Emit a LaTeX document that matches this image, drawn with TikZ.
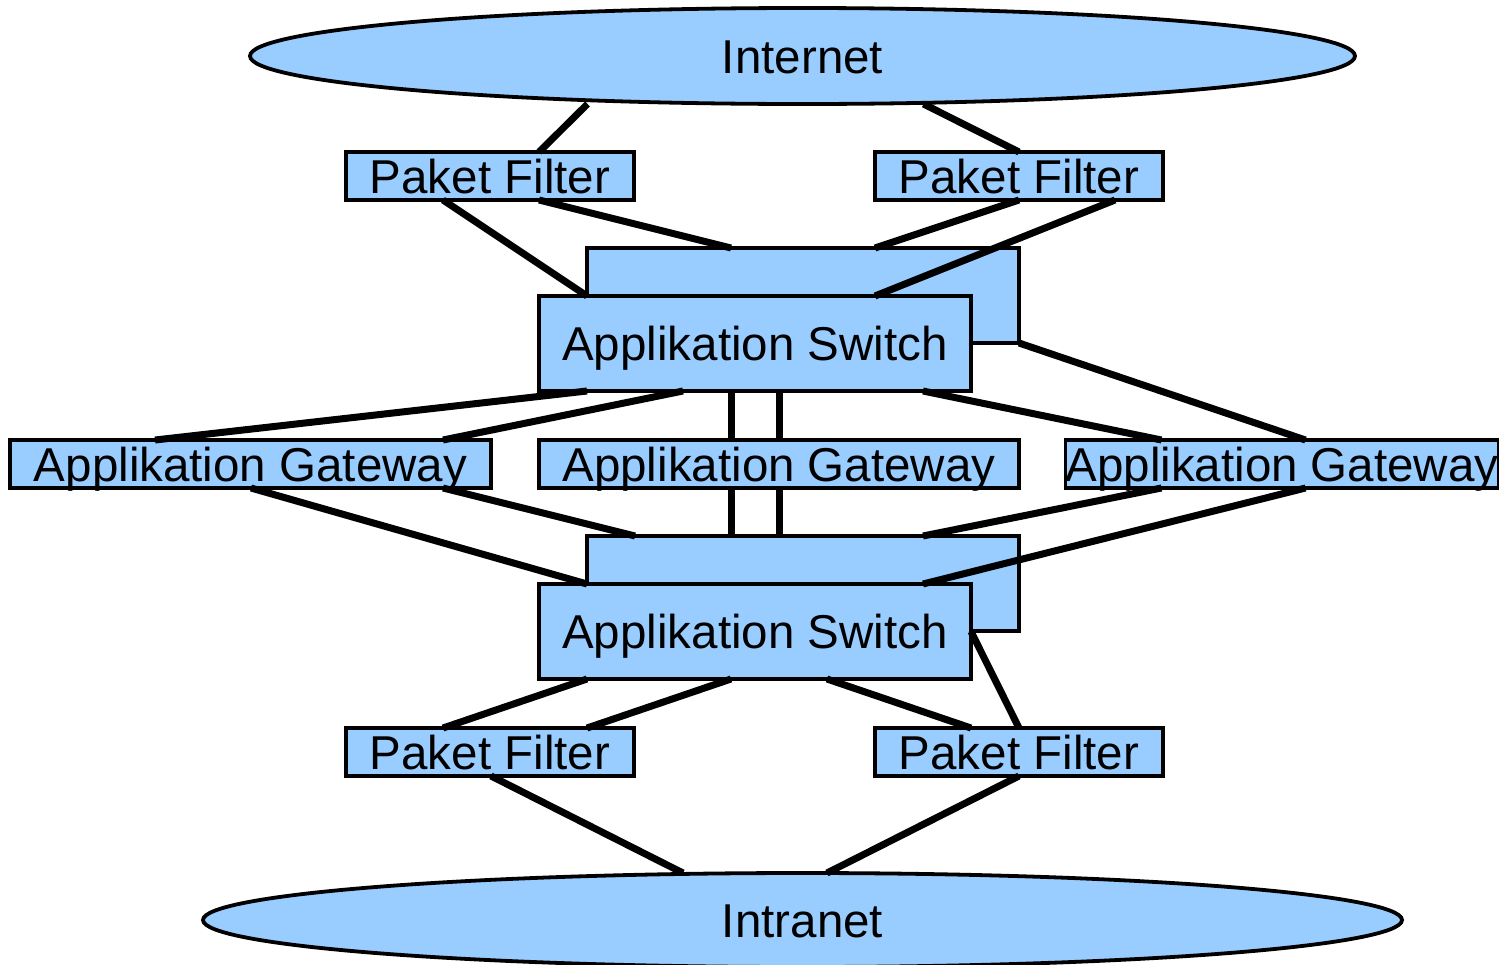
\documentclass[tikz,border=0pt]{standalone}
\usepackage{fontspec}
\setmainfont{Liberation Sans}
\usetikzlibrary{shapes.geometric,calc}
\definecolor{boxblue}{HTML}{99CCFF}
\begin{document}
\begin{tikzpicture}[x=0.5pt,y=-0.5pt,
  box/.style={draw=black,fill=boxblue,line width=1.9pt,rectangle,inner sep=0pt,outer sep=0pt,text height=17pt,text depth=0pt,font=\fontsize{23.75pt}{28pt}\selectfont},
  cloud/.style={draw=black,fill=boxblue,line width=1.9pt,ellipse,inner sep=0pt,outer sep=0pt,text height=17pt,text depth=0pt,font=\fontsize{23.75pt}{28pt}\selectfont},
  conn/.style={line width=3.5pt,black}]
\useasboundingbox (0,0) rectangle (1499,964);
% clouds
\node[cloud,minimum width=552.5pt,minimum height=48pt] (inet) at (802.5,56) {Internet};
\node[cloud,minimum width=599.5pt,minimum height=47pt] (intra) at (802.5,920) {Intranet};
% packet filters
\node[box,minimum width=144pt,minimum height=24pt] (pfTL) at (490,176) {Paket Filter};
\node[box,minimum width=144pt,minimum height=24pt] (pfTR) at (1019,176) {Paket Filter};
\node[box,minimum width=144pt,minimum height=24pt] (pfBL) at (490,752) {Paket Filter};
\node[box,minimum width=144pt,minimum height=24pt] (pfBR) at (1019,752) {Paket Filter};
% switches
\node[box,minimum width=216pt,minimum height=47.5pt] (sw1b) at (803,295.5) {};
\node[box,minimum width=216pt,minimum height=47.5pt] (sw1f) at (755,343.5) {Applikation Switch};
\node[box,minimum width=216pt,minimum height=47.5pt] (sw2b) at (803,583.5) {};
\node[box,minimum width=216pt,minimum height=47.5pt] (sw2f) at (755,631.5) {Applikation Switch};
% gateways
\node[box,minimum width=240.5pt,minimum height=24pt] (gwL) at (250.5,464) {Applikation Gateway};
\node[box,minimum width=240pt,minimum height=24pt] (gwM) at (779,464) {Applikation Gateway};
\node[box,minimum width=215pt,minimum height=24pt] (gwR) at (1282,464) {Applikation Gateway};
% connectors
\draw[conn] ($(inet.south)+(-215,0)$) -- ($(pfTL.north west)+(193,0)$);
\draw[conn] ($(inet.south)+(121,0)$) -- ($(pfTR.north west)+(144,0)$);
\draw[conn] ($(pfTL.south west)+(97,0)$) -- ($(sw1f.north west)+(48,0)$);
\draw[conn] ($(pfTL.south west)+(193,0)$) -- ($(sw1b.north west)+(144,0)$);
\draw[conn] ($(pfTR.south west)+(144,0)$) -- ($(sw1b.north west)+(288,0)$);
\draw[conn] ($(pfTR.south west)+(240,0)$) -- ($(sw1f.north west)+(336,0)$);
\draw[conn] (sw1b.south east) -- ($(gwR.north west)+(240,0)$);
\draw[conn] ($(sw1f.south west)+(48,0)$) -- ($(gwL.north west)+(145,0)$);
\draw[conn] ($(sw1f.south west)+(144,0)$) -- ($(gwL.north west)+(433,0)$);
\draw[conn] ($(sw1f.south west)+(192,0)$) -- ($(gwM.north west)+(192,0)$);
\draw[conn] ($(sw1f.south west)+(240,0)$) -- ($(gwM.north west)+(240,0)$);
\draw[conn] ($(sw1f.south west)+(384,0)$) -- ($(gwR.north west)+(96,0)$);
\draw[conn] ($(gwL.south west)+(241,0)$) -- ($(sw2f.north west)+(48,0)$);
\draw[conn] ($(gwL.south west)+(433,0)$) -- ($(sw2b.north west)+(48,0)$);
\draw[conn] ($(gwM.south west)+(192,0)$) -- ($(sw2b.north west)+(144,0)$);
\draw[conn] ($(gwM.south west)+(240,0)$) -- ($(sw2b.north west)+(192,0)$);
\draw[conn] ($(gwR.south west)+(96,0)$) -- ($(sw2b.north west)+(336,0)$);
\draw[conn] ($(gwR.south west)+(240,0)$) -- ($(sw2f.north west)+(384,0)$);
\draw[conn] ($(sw2f.south west)+(48,0)$) -- ($(pfBL.north west)+(97,0)$);
\draw[conn] ($(sw2f.south west)+(192,0)$) -- ($(pfBL.north west)+(241,0)$);
\draw[conn] ($(sw2f.south west)+(288,0)$) -- ($(pfBR.north west)+(96,0)$);
\draw[conn] (sw2f.east) -- ($(pfBR.north west)+(144,0)$);
\draw[conn] ($(pfBL.south west)+(145,0)$) -- ($(intra.north)+(-119.5,0)$);
\draw[conn] ($(pfBR.south west)+(144,0)$) -- ($(intra.north)+(24.5,0)$);
\end{tikzpicture}
\end{document}
